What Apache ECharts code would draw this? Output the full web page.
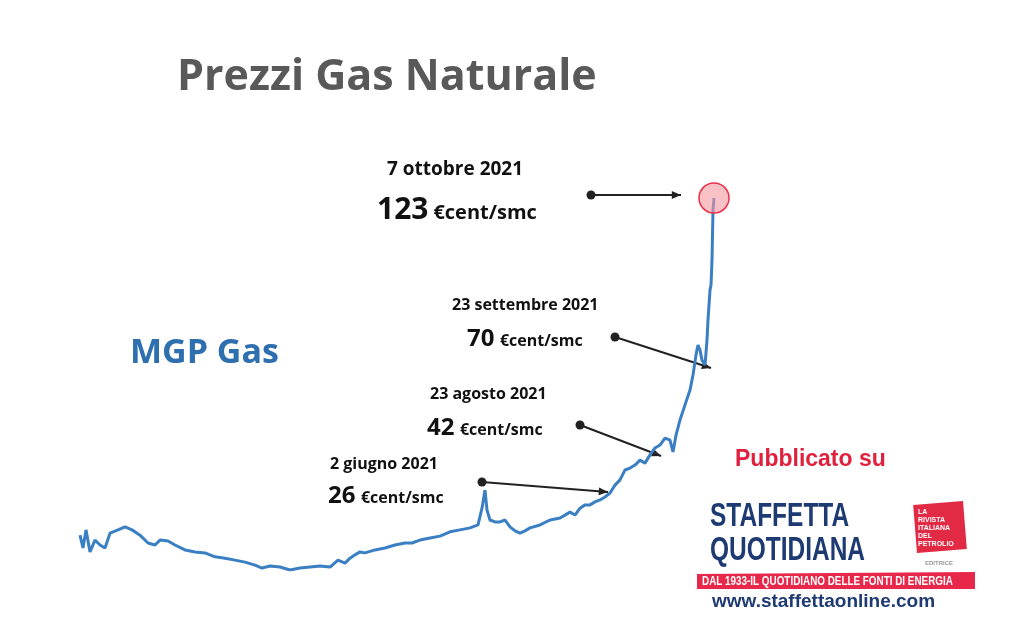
<!DOCTYPE html>
<html>
<head>
<meta charset="utf-8">
<script src="https://cdn.jsdelivr.net/npm/echarts@6/dist/echarts.min.js"></script>
<style>html,body{margin:0;padding:0;background:#fff}#chart{width:1024px;height:635px}</style>
</head>
<body>
<div id="chart"></div>
<script>
  // days from start of the series, prices in €cent/smc
  const days = [0, 3, 6, 10, 15, 20, 25, 30, 38, 45, 52, 60, 68, 75, 80, 88, 95, 105, 115, 125, 135, 145, 155, 165, 175, 182, 190, 200, 210, 220, 230, 240, 250, 258, 265, 270, 275, 280, 285, 295, 305, 315, 325, 332, 340, 350, 360, 370, 380, 390, 398, 402, 405, 407, 410, 415, 420, 425, 430, 435, 440, 445, 450, 460, 470, 480, 490, 495, 500, 505, 510, 515, 520, 525, 530, 535, 540, 545, 550, 555, 560, 565, 570, 575, 580, 585, 590, 593, 596, 600, 605, 610, 613, 616, 618, 620, 622, 625, 627, 628, 630, 631, 632, 633, 634];
  const prices = [20.6, 16.7, 22.2, 15.5, 19.1, 17.6, 16.7, 21.2, 22.2, 23.1, 22.2, 20.6, 18.2, 17.6, 19.1, 18.8, 17.6, 16.1, 15.5, 15.2, 14.0, 13.6, 13.0, 12.4, 11.5, 10.6, 11.2, 10.9, 10.0, 10.6, 10.9, 11.2, 10.9, 13.0, 12.1, 13.6, 14.6, 15.5, 15.2, 16.1, 16.7, 17.6, 18.2, 18.2, 19.1, 19.7, 20.3, 21.6, 22.2, 22.8, 23.7, 28.8, 34.3, 28.2, 25.2, 24.6, 24.6, 25.2, 23.1, 21.9, 21.2, 21.9, 22.8, 23.7, 25.2, 25.8, 27.6, 26.7, 28.8, 29.8, 29.8, 30.7, 31.3, 32.2, 33.4, 35.8, 37.4, 40.4, 41.0, 41.9, 43.4, 42.5, 45.0, 47.1, 48.0, 50.1, 49.5, 45.9, 51.0, 55.6, 60.2, 64.7, 69.3, 75.4, 78.4, 76.9, 73.8, 72.3, 79.9, 86.0, 95.1, 96.6, 104.2, 119.4, 123.1];

  const chart = echarts.init(document.getElementById('chart'));
  const font = 'Open Sans';
  const black = '#111';
  const navy = '#1e3a72';

  const txt = (left, top, text, size, color, extra, scaleX) => ({
    type: 'text', left, top, scaleX: scaleX || 1,
    style: Object.assign({ text, fontSize: size, fontWeight: 'bold', fill: color || black, fontFamily: font }, extra || {})
  });
  const arrow = (x1, y1, x2, y2) => {
    const a = Math.atan2(y2 - y1, x2 - x1), h = 10;
    return [
      { type: 'circle', shape: { cx: x1, cy: y1, r: 4.5 }, style: { fill: '#222' } },
      { type: 'line', shape: { x1, y1, x2, y2 }, style: { stroke: '#222', lineWidth: 2 } },
      { type: 'polygon', shape: { points: [[x2, y2],
        [x2 - h * Math.cos(a - 0.4), y2 - h * Math.sin(a - 0.4)],
        [x2 - h * Math.cos(a + 0.4), y2 - h * Math.sin(a + 0.4)]] }, style: { fill: '#222' } }
    ];
  };
  const value = (left, top, num, big, small) => [
    txt(left, top, num, big),
    txt(left + big * 0.56 * num.length + 6, top + big - small - 2, '€cent/smc', small)
  ];

  chart.setOption({
    animation: false,
    grid: { left: 80, right: 1024 - 714, top: 198, bottom: 65 },
    xAxis: { type: 'value', min: 0, max: 634, show: false },
    yAxis: { type: 'value', min: 10, max: 123.1, show: false },
    series: [{
      type: 'line',
      data: days.map((d, i) => [d, prices[i]]),
      showSymbol: false,
      lineStyle: { color: '#3a7fc4', width: 3 },
      markPoint: {
        symbol: 'circle', symbolSize: 30,
        itemStyle: { color: 'rgba(245,150,160,0.6)', borderColor: '#e8304a', borderWidth: 1.5 },
        label: { show: false },
        data: [{ coord: [634, 123.1] }]
      },
      z: 3
    }],
    graphic: [
      txt(177, 56, 'Prezzi Gas Naturale', 43, '#595959'),
      txt(130, 336, 'MGP Gas', 34, '#2e6fb0'),
      txt(387, 160, '7 ottobre 2021', 19),
      ...value(377, 195, '123', 30, 20),
      ...arrow(591, 195, 681, 195),
      txt(452, 297, '23 settembre 2021', 16),
      ...value(467, 327, '70', 24, 16),
      ...arrow(615, 337, 711, 368),
      txt(430, 386, '23 agosto 2021', 16),
      ...value(427, 416, '42', 24, 16),
      ...arrow(580, 425, 661, 456),
      txt(330, 456, '2 giugno 2021', 16),
      ...value(328, 484, '26', 24, 16),
      ...arrow(482, 482, 608, 492),
      txt(735, 448, 'Pubblicato su', 23, '#e0203c', { fontFamily: 'Liberation Sans' }),
      txt(710, 500, 'STAFFETTA', 34, navy, { fontFamily: 'Liberation Sans' }, 0.72),
      txt(710, 534, 'QUOTIDIANA', 34, navy, { fontFamily: 'Liberation Sans' }, 0.72),
      { type: 'rect', shape: { x: 915, y: 503, width: 50, height: 48 }, rotation: 0.08, originX: 940, originY: 527, style: { fill: '#e32a45' } },
      txt(918, 508, 'LA\nRIVISTA\nITALIANA\nDEL\nPETROLIO', 7, '#fff', { fontFamily: 'Liberation Sans', lineHeight: 8 }),
      txt(925, 560, 'EDITRICE', 6, '#999', { fontFamily: 'Liberation Sans' }),
      { type: 'polygon', shape: { points: [[697, 574], [975, 572], [975, 589], [697, 589]] }, style: { fill: '#e8284a' } },
      txt(702, 575, 'DAL 1933-IL QUOTIDIANO DELLE FONTI DI ENERGIA', 13, '#fff', { fontFamily: 'Liberation Sans' }, 0.76),
      txt(712, 592, 'www.staffettaonline.com', 19, navy, { fontFamily: 'Liberation Sans' })
    ]
  });
</script>
</body>
</html>
